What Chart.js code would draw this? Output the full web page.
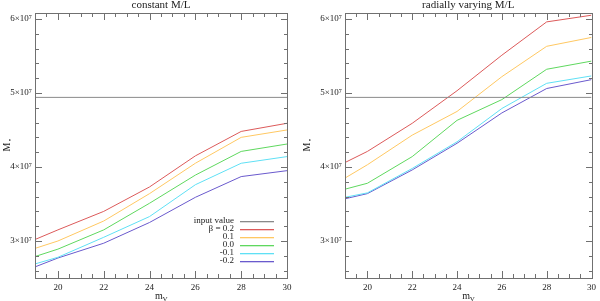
<!DOCTYPE html>
<html>
<head>
<meta charset="utf-8">
<script src="https://cdn.jsdelivr.net/npm/chart.js@4"></script>
<style>
  html, body { margin: 0; padding: 0; background: #fff; }
  .panel { position: absolute; top: 0; width: 300px; height: 301px; }
</style>
</head>
<body>
<div class="panel" style="left:0"><canvas id="leftChart" width="300" height="301"></canvas></div>
<div class="panel" style="left:300px"><canvas id="rightChart" width="300" height="301"></canvas></div>
<script>
/* ===== data (y in units of 10^7) ===== */
const xVals = [19, 20, 22, 24, 26, 28, 30];
const inputValue = 4.94;
const betaLabels = ['\u03b2 = 0.2', '0.1', '0.0', '-0.1', '-0.2'];
const betaColors = ['#dc5a5a', '#ffc862', '#5fd85f', '#5fe0f5', '#6a5acd'];
const inputColor = '#8a8a8a';

// constant M/L
const constB02  = [3.02, 3.15, 3.40, 3.73, 4.15, 4.48, 4.59];
const constB01  = [2.90, 3.00, 3.27, 3.64, 4.05, 4.40, 4.50];
const constB00  = [2.79, 2.89, 3.15, 3.51, 3.89, 4.21, 4.31];
const constBm01 = [2.69, 2.78, 3.05, 3.33, 3.76, 4.05, 4.14];
const constBm02 = [2.65, 2.77, 2.97, 3.25, 3.59, 3.87, 3.95];

// radially varying M/L
const radB02  = [4.06, 4.21, 4.59, 5.03, 5.51, 5.96, 6.05];
const radB01  = [3.85, 4.03, 4.43, 4.75, 5.22, 5.63, 5.75];
const radB00  = [3.70, 3.78, 4.14, 4.63, 4.91, 5.32, 5.43];
const radBm01 = [3.59, 3.65, 3.98, 4.34, 4.79, 5.13, 5.23];
const radBm02 = [3.57, 3.64, 3.96, 4.32, 4.73, 5.06, 5.18];

const xTicks = [20, 22, 24, 26, 28, 30];
const yTicks = [3, 4, 5, 6];

const FONT = 'Liberation Serif';

/* ===== frame + inward ticks + titles + legend ===== */
const framePlugin = {
  id: 'frame',
  afterDraw(chart, args, opts) {
    const { ctx, chartArea: a } = chart;
    const xs = chart.scales.x, ys = chart.scales.y;
    const L = Math.round(a.left), R = Math.round(a.right);
    const T = Math.round(a.top), B = Math.round(a.bottom);
    const xPix = v => a.left + (v - xs.min) / (xs.max - xs.min) * (a.right - a.left);
    const yPix = v => a.bottom - (v - ys.min) / (ys.max - ys.min) * (a.bottom - a.top);
    ctx.save();
    ctx.fillStyle = '#707070';
    // frame
    ctx.fillRect(L, T, R - L + 1, 1);
    ctx.fillRect(L, B, R - L + 1, 1);
    ctx.fillRect(L, T, 1, B - T + 1);
    ctx.fillRect(R, T, 1, B - T + 1);

    // inward ticks
    for (let k = 38; k <= 60; k++) {
      const px = Math.round(xPix(k / 2));
      const len = (k % 4 === 0) ? 7 : 4;
      ctx.fillRect(px, B - len, 1, len);
      ctx.fillRect(px, T, 1, len);
    }
    for (let i = 13; i <= 30; i++) {
      const py = Math.round(yPix(i / 5));
      if (py < T || py > B) continue;
      const len = (i % 5 === 0) ? 7 : 4;
      ctx.fillRect(L, py, len, 1);
      ctx.fillRect(R - len + 1, py, len, 1);
    }

    // titles
    ctx.fillStyle = '#222';
    ctx.font = `11px "${FONT}"`;
    ctx.textAlign = 'center';
    ctx.textBaseline = 'middle';
    ctx.fillText(opts.title, (a.left + a.right) / 2, 5);
    ctx.font = `10px "${FONT}"`;
    ctx.fillText('m', (a.left + a.right) / 2 - 2, 296);
    ctx.font = `7px "${FONT}"`;
    ctx.fillText('V', (a.left + a.right) / 2 + 4, 299);
    ctx.save();
    ctx.translate(7, 145);
    ctx.rotate(-Math.PI / 2);
    ctx.font = `10px "${FONT}"`;
    ctx.fillText('M', -2, 0);
    ctx.font = `7px "${FONT}"`;
    ctx.fillText('\u2022', 5, 3);
    ctx.restore();

    // legend
    if (opts.legend) {
      const labels = ['input value', ...betaLabels];
      const colors = [inputColor, ...betaColors];
      ctx.font = `9px "${FONT}"`;
      ctx.textAlign = 'right';
      labels.forEach((lab, i) => {
        const ly = 221 + i * 8;
        ctx.fillStyle = '#222';
        ctx.fillText(lab, 234, ly);
        ctx.fillStyle = colors[i];
        ctx.fillRect(240, ly, 34, 1.3);
      });
    }
    ctx.restore();
  }
};

function buildDatasets(series) {
  const sets = [{
    label: 'input value',
    data: [{ x: 19, y: inputValue }, { x: 30, y: inputValue }],
    borderColor: inputColor
  }];
  series.forEach((s, i) => {
    sets.push({
      label: betaLabels[i],
      data: xVals.map((xv, j) => ({ x: xv, y: s[j] })),
      borderColor: betaColors[i]
    });
  });
  return sets.map(d => Object.assign(d, { borderWidth: 1, pointRadius: 0, tension: 0, fill: false }));
}

function makeChart(id, title, series, yWidth, padRight, legend) {
  return new Chart(document.getElementById(id), {
    type: 'line',
    data: { datasets: buildDatasets(series) },
    options: {
      responsive: false,
      animation: false,
      layout: { padding: { left: 0, top: 13, right: padRight, bottom: 0 } },
      plugins: {
        legend: { display: false },
        tooltip: { enabled: false },
        frame: { title, legend }
      },
      scales: {
        x: {
          type: 'linear', min: 19, max: 30,
          grid: { display: false, drawTicks: false, tickLength: 0 }, border: { display: false },
          afterBuildTicks: s => { s.ticks = xTicks.map(v => ({ value: v })); },
          afterFit: s => { s.height = 23; },
          ticks: { color: '#222', font: { family: FONT, size: 9 }, padding: 4, maxRotation: 0 }
        },
        y: {
          type: 'linear', min: 2.5, max: 6.08,
          grid: { display: false, drawTicks: false, tickLength: 0 }, border: { display: false },
          afterBuildTicks: s => { s.ticks = yTicks.map(v => ({ value: v })); },
          afterFit: s => { s.width = yWidth; },
          ticks: {
            color: '#222', font: { family: FONT, size: 9 }, padding: 3,
            callback: v => v + '\u00d710\u2077'
          }
        }
      }
    },
    plugins: [framePlugin]
  });
}

makeChart('leftChart', 'constant M/L', [constB02, constB01, constB00, constBm01, constBm02], 35, 13, true);
makeChart('rightChart', 'radially varying M/L', [radB02, radB01, radB00, radBm01, radBm02], 45, 3, false);
</script>
</body>
</html>
